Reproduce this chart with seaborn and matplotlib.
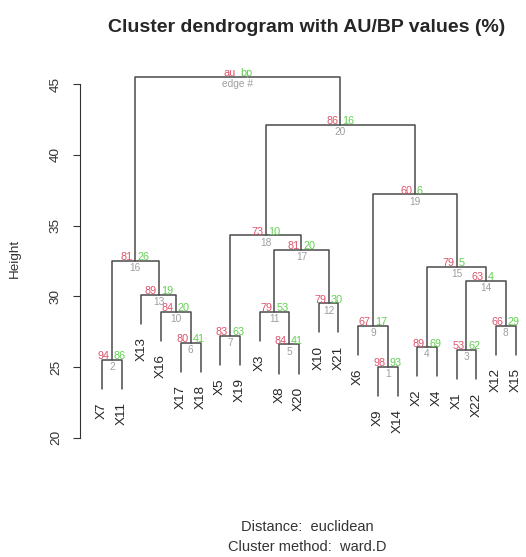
import numpy as np
import pandas as pd
import matplotlib
matplotlib.use("Agg")
import matplotlib.pyplot as plt
import seaborn as sns

# leaf order as drawn in the dendrogram
leaves = ["X7", "X11", "X13", "X16", "X17", "X18", "X5", "X19", "X3", "X8", "X20",
          "X10", "X21", "X6", "X9", "X14", "X2", "X4", "X1", "X22", "X12", "X15"]

# hclust-style merges: a leaf name or the (1-based) number of an earlier merge
merge_a = ["X9", "X7", "X1", "X2", "X8", "X17", "X5", "X12", "X6", "X16", "X3",
           "X10", "X13", 3, 4, 2, 11, 7, 9, 18, 16]
merge_b = ["X14", "X11", "X22", "X4", "X20", "X18", "X19", "X15", 1, 6, 5,
           "X21", 10, 8, 14, 13, 12, 17, 15, 19, 20]
heights = [25.0, 25.5, 26.2, 26.4, 26.6, 26.7, 27.2, 27.9, 27.9, 28.9, 28.9,
           29.5, 30.1, 31.1, 32.1, 32.5, 33.3, 34.3, 37.2, 42.1, 45.5]

# AU / BP p-values (%) per edge, root gets the legend text
au = ["98", "94", "53", "89", "84", "80", "83", "66", "67", "84", "79",
      "79", "89", "63", "79", "81", "81", "73", "60", "86", "au"]
bp = ["93", "86", "62", "69", "41", "41", "63", "29", "17", "20", "53",
      "30", "19", "4", "5", "26", "20", "10", "6", "16", "bp"]
edge_num = [str(i) for i in range(1, 21)] + ["edge #"]

RED = "#DF536B"
GREEN = "#61D04F"
GRAY = "#9E9E9E"

sns.set_style("white")
plt.rcParams['font.family'] = ['Liberation Sans', 'DejaVu Sans']

fig = plt.figure(figsize=(5.26, 5.57), dpi=100)
ax = fig.add_axes([80 / 526, 1 - 445 / 557, 446 / 526, (445 - 62.8) / 557])

# positions of leaves and merged nodes
leaf_x = {name: i + 1 for i, name in enumerate(leaves)}
hang = 0.1 * (max(heights) - min(heights))
node_x = []


def child_pos(c, h):
    if isinstance(c, str):
        return leaf_x[c], h - hang
    return node_x[c - 1], heights[c - 1]


rows = []
for k, (a, b, h) in enumerate(zip(merge_a, merge_b, heights)):
    xa, ya = child_pos(a, h)
    xb, yb = child_pos(b, h)
    node_x.append((xa + xb) / 2)
    for x, y in [(xa, ya), (xa, h), (xb, h), (xb, yb)]:
        rows.append({"seg": k, "x": x, "y": y})
df = pd.DataFrame(rows)

sns.lineplot(data=df, x="x", y="y", units="seg", estimator=None, sort=False,
             color="#4a4a4a", lw=1.1, ax=ax)

ax.set_xlim(1 - 22 / 19.7, 1 - 22 / 19.7 + 446 / 19.7)
ax.set_ylim(19.5, 46.5)
wid = 46.5 - 19.5

# leaf labels
for name, x in leaf_x.items():
    for k, (a, b) in enumerate(zip(merge_a, merge_b)):
        if name in (a, b):
            yl = heights[k] - hang
    ax.annotate(name, (x, yl), xytext=(0, -9.5), textcoords="offset points",
                rotation=90, ha="center", va="top", fontsize=9.7,
                annotation_clip=False)

# au / bp / edge numbers
for k in range(len(heights)):
    x, h = node_x[k], heights[k]
    ax.annotate(au[k], (x, h + 0.01 * wid), xytext=(-1.5, 0), textcoords="offset points",
                ha="right", va="center", color=RED, fontsize=7.8, annotation_clip=False)
    ax.annotate(bp[k], (x, h + 0.01 * wid), xytext=(1.5, 0), textcoords="offset points",
                ha="left", va="center", color=GREEN, fontsize=7.8, annotation_clip=False)
    ax.annotate(edge_num[k], (x, h), xytext=(0, -1.5), textcoords="offset points",
                ha="center", va="top", color=GRAY, fontsize=7.3, annotation_clip=False)

# axes styling
for s in ["top", "right", "bottom"]:
    ax.spines[s].set_visible(False)
ax.spines["left"].set_bounds(20, 45)
ax.spines["left"].set_color("#333333")
ax.set_xticks([])
ax.set_yticks([20, 25, 30, 35, 40, 45])
ax.tick_params(axis="y", left=True, length=5, width=0.8, pad=8, labelsize=9.7,
               labelrotation=90, color="#333333", labelcolor="#333333")
for lab in ax.get_yticklabels():
    lab.set_va("center")
ax.set_xlabel("")
ax.set_ylabel("")

fig.text(307 / 526, 1 - 28 / 557, "Cluster dendrogram with AU/BP values (%)",
         ha="center", va="center", fontsize=14, fontweight="bold")
fig.text(15 / 526, 1 - 258 / 557, "Height", rotation=90, ha="center", va="center",
         fontsize=9.7, color="#333333")
fig.text(307 / 526, 1 - 527 / 557, "Distance:  euclidean", ha="center", va="center",
         fontsize=10.5, color="#333333")
fig.text(307 / 526, 1 - 547 / 557, "Cluster method:  ward.D", ha="center", va="center",
         fontsize=10.5, color="#333333")

fig.savefig("out.png", dpi=100)
